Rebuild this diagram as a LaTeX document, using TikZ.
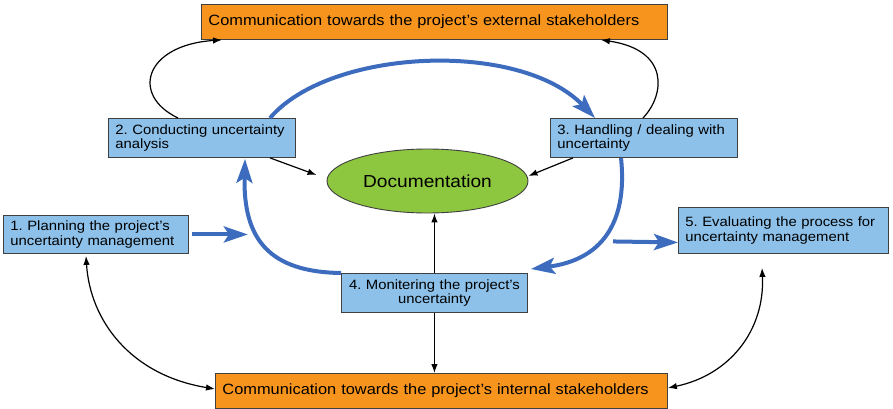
\documentclass[tikz,border=0pt]{standalone}
\usepackage{fontspec}
\setmainfont{Liberation Sans}[FakeStretch=1.1]
\usetikzlibrary{arrows.meta,shapes.geometric}
\definecolor{orfill}{RGB}{247,148,30}
\definecolor{boxblue}{RGB}{141,193,234}
\definecolor{docgreen}{RGB}{141,198,63}
\definecolor{arrowblue}{RGB}{61,108,190}
\begin{document}
\frenchspacing
\begin{tikzpicture}[x=1pt,y=-1pt,
  bluebox/.style={draw=black!75, fill=boxblue, line width=0.9pt, anchor=north west,
    inner xsep=7pt, inner ysep=0pt, align=left, font=\fontsize{13.5}{14.5}\selectfont},
  orbox/.style={draw=black!75, fill=orfill, line width=0.9pt, anchor=north west,
    inner xsep=7pt, inner ysep=0pt, align=left, minimum height=35pt, font=\fontsize{14.9}{16}\selectfont},
  blk/.style={-{Latex[length=9pt,width=6.5pt]}, line width=1.2pt},
  blkboth/.style={{Latex[length=9pt,width=6.5pt]}-{Latex[length=9pt,width=6.5pt]}, line width=1.2pt},
  bluearrow/.style={draw=arrowblue, line width=4pt, -{Stealth[length=24pt,width=16pt,inset=5pt]}}
]
\useasboundingbox (0,0) rectangle (893,409);

\node[orbox, minimum width=466pt, text width=452pt] (top) at (201,4)
  {Communication towards the project's external stakeholders};
\node[orbox, minimum width=452pt, text width=438pt] (bot) at (215,373)
  {Communication towards the project's internal stakeholders};

\node[bluebox, minimum width=185pt, text width=171pt, minimum height=38pt] (b1) at (3,215)
  {1. Planning the project's\\uncertainty management};
\node[bluebox, minimum width=187pt, text width=173pt, minimum height=39pt] (b2) at (108,118)
  {2. Conducting uncertainty\\analysis};
\node[bluebox, minimum width=187pt, text width=173pt, minimum height=39pt] (b3) at (550,118)
  {3. Handling / dealing with\\uncertainty};
\node[bluebox, minimum width=186pt, inner xsep=2pt, text width=182pt, minimum height=39pt, align=center] (b4) at (341,273)
  {4. Monitering the project's\\uncertainty};
\node[bluebox, minimum width=210pt, text width=196pt, minimum height=46pt] (b5) at (678,207)
  {5. Evaluating the process for\\uncertainty management};

\node[ellipse, draw=black!75, fill=docgreen, line width=0.9pt, minimum width=201pt,
  minimum height=64pt, inner sep=0pt, font=\fontsize{17.4}{20}\selectfont] (doc) at (427.5,181)
  {Documentation};

% black connectors
\draw[blk] ([xshift=70pt]b2.north west) .. controls (130,95) and (145,45) .. ([xshift=21pt]top.south west);
\draw[blk] ([xshift=93pt]b3.north west) .. controls (665,95) and (670,50) .. ([xshift=-67pt]top.south east);
\draw[blk] ([xshift=162pt]b2.south west) -- ([xshift=-10pt,yshift=6pt]doc.west);
\draw[blk] ([xshift=23pt]b3.south west) -- ([yshift=5pt]doc.east);
\draw[blk] (b4.north) -- (b4.north |- doc.south);
\draw[blk] (b4.south) -- (b4.south |- bot.north);
\draw[blkboth] ([xshift=83pt,yshift=-2pt]b1.south west) .. controls (90,320) and (130,375) .. ([yshift=2pt]bot.west);
\draw[blkboth] ([xshift=84pt,yshift=-14pt]b5.south west) .. controls (765,330) and (730,375) .. ([yshift=3pt]bot.east);

% blue cycle
\draw[bluearrow] ([xshift=162pt]b2.north west) .. controls (330,48) and (520,40) .. ([xshift=45pt]b3.north west);
\draw[bluearrow] ([xshift=71pt]b3.south west) .. controls (628,225) and (600,260) .. ([xshift=3pt,yshift=4pt]b4.north east);
\draw[bluearrow] (b4.north west) .. controls (270,272) and (243,240) .. ([xshift=137pt,yshift=-1pt]b2.south west);
\draw[bluearrow] ([xshift=3pt]b1.east) -- ([xshift=59pt]b1.east);
\draw[bluearrow] ([xshift=-65pt,yshift=-11pt]b5.west) -- ([yshift=-12pt]b5.west);
\end{tikzpicture}
\end{document}
